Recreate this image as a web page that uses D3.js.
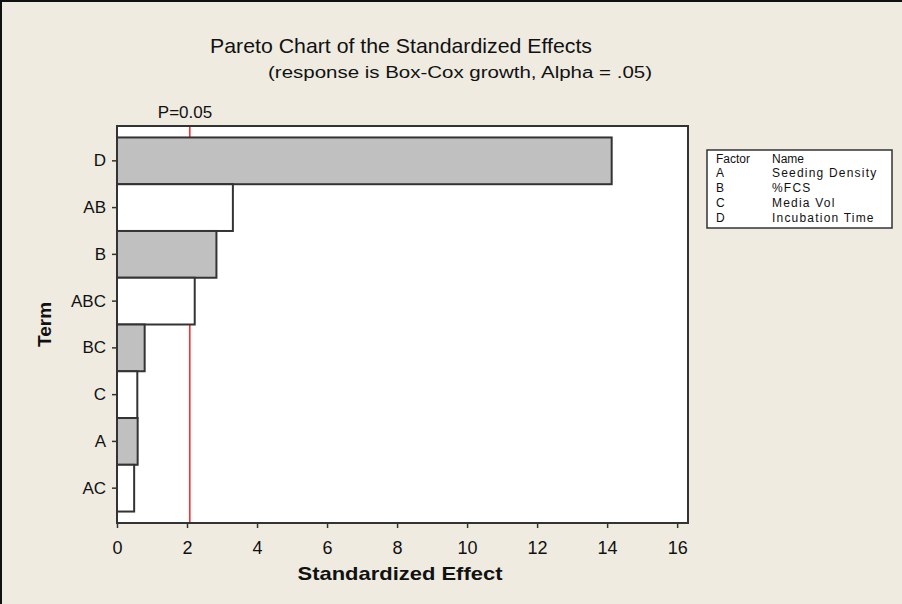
<!DOCTYPE html>
<html>
<head>
<meta charset="utf-8">
<script src="https://cdn.jsdelivr.net/npm/d3@7"></script>
<style>
  body { margin: 0; background: #efebe1; }
  text { font-family: "Liberation Sans", Arial, sans-serif; fill: #111; }
</style>
</head>
<body>
<div id="chart-area"></div>
<script>
// terms ordered largest to smallest, as Minitab draws them
var terms = ["D", "AB", "B", "ABC", "BC", "C", "A", "AC"];
var effects = [14.13, 3.31, 2.84, 2.22, 0.79, 0.58, 0.59, 0.49];
var xTicks = [0, 2, 4, 6, 8, 10, 12, 14, 16];
var critical = 2.08;
var factors = ["A", "B", "C", "D"];
var factorNames = ["Seeding Density", "%FCS", "Media Vol", "Incubation Time"];

var W = 902, H = 604;
var margin = { left: 117, right: 214, top: 126, bottom: 81 };
var width = W - margin.left - margin.right;
var height = H - margin.top - margin.bottom;

var svg = d3.select("#chart-area").append("svg")
	.attr("width", W)
	.attr("height", H);

svg.append("rect").attr("width", W).attr("height", H).attr("fill", "#efebe1");
// dark edge on top and left, like the screenshot
svg.append("line").attr("x1", 0).attr("x2", W).attr("y1", 1).attr("y2", 1)
	.attr("stroke", "#111").attr("stroke-width", 2);
svg.append("line").attr("x1", 1).attr("x2", 1).attr("y1", 0).attr("y2", H)
	.attr("stroke", "#111").attr("stroke-width", 2);

var g = svg.append("g")
	.attr("transform", "translate(" + margin.left + ", " + margin.top + ")");

var x = d3.scaleLinear().domain([0, 16.31]).range([0, width]);
var y = d3.scaleBand().domain(terms).range([0, height]).paddingInner(0).paddingOuter(0.245);

// plot area
g.append("rect")
	.attr("width", width).attr("height", height)
	.attr("fill", "#fff");

// reference line sits behind the bars
g.append("line")
	.attr("x1", x(critical)).attr("x2", x(critical))
	.attr("y1", 0).attr("y2", height)
	.attr("stroke", "#ff2020").attr("stroke-width", 1.5);

g.selectAll(".bar").data(terms).enter().append("rect")
	.attr("class", "bar")
	.attr("x", 0)
	.attr("y", function (d) { return y(d); })
	.attr("width", function (d, i) { return x(effects[i]); })
	.attr("height", y.bandwidth())
	.attr("fill", function (d, i) { return i % 2 == 0 ? "#c0c0c0" : "#fff"; })
	.attr("stroke", "#333")
	.attr("stroke-width", 2);

g.append("rect")
	.attr("width", width).attr("height", height)
	.attr("fill", "none").attr("stroke", "#333").attr("stroke-width", 2);

// axes
var xAxisGroup = g.append("g")
	.attr("transform", "translate(0," + height + ")")
	.call(d3.axisBottom(x).tickValues(xTicks).tickSize(5).tickPadding(13).tickSizeOuter(0));
var yAxisGroup = g.append("g")
	.call(d3.axisLeft(y).tickSize(5).tickPadding(6).tickSizeOuter(0));

[xAxisGroup, yAxisGroup].forEach(function (a) {
	a.select(".domain").remove();
	a.selectAll("line").attr("stroke", "#333").attr("stroke-width", 1.5);
	a.selectAll("text").attr("font-family", "'Liberation Sans', Arial, sans-serif")
		.attr("font-size", "17px").attr("fill", "#111");
});
xAxisGroup.selectAll("text").attr("font-size", "18px");

// labels
svg.append("text")
	.attr("x", 401).attr("y", 53)
	.attr("text-anchor", "middle")
	.attr("font-size", "21px")
	.attr("textLength", 382).attr("lengthAdjust", "spacingAndGlyphs")
	.text("Pareto Chart of the Standardized Effects");
svg.append("text")
	.attr("x", 460).attr("y", 78)
	.attr("text-anchor", "middle")
	.attr("font-size", "16px")
	.attr("textLength", 384).attr("lengthAdjust", "spacingAndGlyphs")
	.text("(response is Box-Cox growth, Alpha = .05)");
svg.append("text")
	.attr("x", 185).attr("y", 118)
	.attr("text-anchor", "middle")
	.attr("font-size", "17px")
	.text("P=0.05");
svg.append("text")
	.attr("x", 400).attr("y", 580)
	.attr("text-anchor", "middle")
	.attr("font-size", "19px")
	.attr("font-weight", "bold")
	.attr("textLength", 205).attr("lengthAdjust", "spacingAndGlyphs")
	.text("Standardized Effect");
svg.append("text")
	.attr("transform", "translate(51," + (margin.top + height / 2) + ") rotate(-90)")
	.attr("text-anchor", "middle")
	.attr("font-size", "19px")
	.attr("font-weight", "bold")
	.text("Term");

// factor legend
var leg = svg.append("g").attr("transform", "translate(707,150)");
leg.append("rect")
	.attr("width", 185).attr("height", 78)
	.attr("fill", "#fff").attr("stroke", "#333").attr("stroke-width", 1.5);
leg.append("text").attr("x", 9).attr("y", 13).attr("font-size", "12px").text("Factor");
leg.append("text").attr("x", 65).attr("y", 13).attr("font-size", "12px").text("Name");
leg.selectAll(".fac").data(factors).enter().append("text")
	.attr("x", 9).attr("y", function (d, i) { return 27 + i * 15; })
	.attr("font-size", "12px").text(function (d) { return d; });
leg.selectAll(".fname").data(factorNames).enter().append("text")
	.attr("x", 65).attr("y", function (d, i) { return 27 + i * 15; })
	.attr("font-size", "12px").attr("letter-spacing", "1.2px")
	.text(function (d) { return d; });
</script>
</body>
</html>
